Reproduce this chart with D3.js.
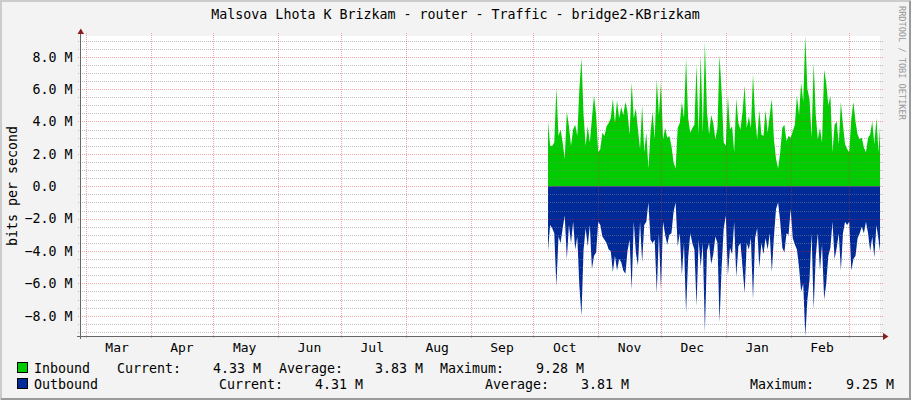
<!DOCTYPE html>
<html>
<head>
<meta charset="utf-8">
<script src="https://cdn.jsdelivr.net/npm/d3@7"></script>
<style>
	body { margin: 0; background: #f3f3f3; }
	text { font-family: "DejaVu Sans Mono", monospace; fill: #000; }
</style>
</head>
<body>
<svg id="chart" width="911" height="400"></svg>
<script>
var title = "Malsova Lhota K Brizkam - router - Traffic - bridge2-KBrizkam";
var yAxisTitle = "bits per second";
var monthLabels = ["Mar", "Apr", "May", "Jun", "Jul", "Aug", "Sep", "Oct", "Nov", "Dec", "Jan", "Feb"];
var yTickValues = [-8, -6, -4, -2, 0, 2, 4, 6, 8];   // in M
var firstDay = new Date(2014, 9, 8);                // first daily sample

// daily averages, Mbit/s
var inbound = [
	4.0, 2.5, 2.5, 2.7, 6.1, 3.1, 3.5, 2.7, 1.7, 4.6,
	3.7, 2.5, 3.5, 3.8, 3.1, 6.0, 7.9, 4.4, 2.5, 3.7,
	2.7, 4.2, 5.6, 4.4, 2.1, 2.3, 3.3, 3.1, 3.7, 3.9,
	4.2, 5.4, 3.9, 5.3, 4.2, 4.9, 4.4, 5.2, 4.6, 3.2,
	6.4, 4.2, 4.8, 3.5, 2.3, 5.0, 2.1, 3.3, 1.1, 3.3,
	4.6, 2.9, 6.6, 4.4,
	6.4, 2.9, 3.6, 3.0, 3.1, 2.5, 1.5, 1.1, 3.6, 3.9,
	5.2, 4.2, 7.9, 4.2, 3.3, 3.6, 3.8, 7.5, 3.2, 8.1,
	3.3, 8.9, 4.6, 3.2, 4.4, 3.9, 2.9, 3.6, 8.1, 5.8,
	2.7, 2.5, 5.6, 3.5, 3.7, 2.1, 5.4, 3.9, 3.5, 4.6,
	6.2, 3.6, 4.3, 3.6, 6.9, 4.3, 2.9, 4.7, 3.2, 3.1,
	4.7, 3.3, 4.4,
	5.4, 2.9, 1.7, 1.1, 2.1, 3.6, 3.8, 2.8, 3.1, 3.0,
	3.4, 3.8, 5.6, 4.4, 6.4, 5.2, 9.28, 6.0, 5.4, 3.0,
	7.6, 4.4, 2.9, 3.6, 2.7, 7.2, 6.4, 5.0, 5.6, 2.1,
	3.8, 4.0, 2.6, 5.2, 3.8, 2.6, 2.3, 2.1, 4.2, 5.2,
	4.0, 3.2, 2.9, 3.0, 2.4, 2.1, 3.0, 3.2, 4.0, 2.6,
	4.2, 2.1, 4.33
];
var outbound = [
	4.0, 2.4, 2.6, 2.9, 6.2, 3.1, 3.5, 2.6, 1.8, 4.5,
	2.4, 3.5, 2.2, 3.9, 3.1, 6.2, 8.0, 3.9, 2.6, 3.7,
	2.4, 5.1, 4.3, 4.1, 2.2, 2.4, 3.1, 3.3, 3.5, 3.9,
	4.0, 5.3, 4.3, 5.2, 4.5, 4.7, 5.2, 5.4, 4.0, 3.3,
	6.4, 2.2, 4.1, 4.9, 2.2, 4.7, 2.4, 2.2, 1.0, 3.3,
	3.5, 3.3, 6.6, 2.9,
	6.4, 2.2, 3.0, 3.6, 3.0, 2.9, 1.6, 1.0, 3.7, 2.9,
	5.5, 3.5, 7.8, 4.4, 2.9, 3.5, 3.9, 7.4, 3.3, 5.0,
	3.5, 9.0, 4.0, 3.5, 4.8, 4.2, 3.1, 3.5, 8.4, 5.0,
	2.6, 1.8, 5.5, 3.8, 4.2, 2.2, 5.6, 3.7, 3.5, 5.0,
	6.6, 3.5, 3.9, 3.2, 7.0, 3.2, 2.6, 5.0, 3.5, 4.2,
	3.2, 3.9, 2.9,
	5.3, 3.1, 1.4, 1.0, 2.2, 3.8, 4.1, 2.9, 3.0, 1.4,
	3.2, 3.6, 3.9, 5.0, 6.5, 6.0, 9.25, 7.0, 5.8, 2.9,
	7.6, 4.3, 2.9, 5.2, 3.6, 7.0, 6.0, 4.3, 3.8, 2.2,
	4.5, 3.8, 2.9, 5.2, 2.9, 2.2, 2.4, 2.2, 5.2, 4.5,
	4.3, 3.2, 2.9, 2.5, 2.9, 2.2, 2.9, 4.0, 3.1, 4.4,
	2.4, 3.3, 4.31
];

var legendNames = ["Inbound", "Outbound"];
var legendColors = ["#00cc00", "#002a97"];
var legendCurrent = ["4.33 M", "4.31 M"];
var legendAverage = ["3.83 M", "3.81 M"];
var legendMaximum = ["9.28 M", "9.25 M"];

var svg = d3.select("#chart");
var W = 911, H = 400;
var plot = {left: 81, right: 880, top: 36, bottom: 336};

svg.append("rect").attr("width", W).attr("height", H).attr("fill", "#f3f3f3");
svg.append("rect")
	.attr("x", plot.left).attr("y", plot.top)
	.attr("width", plot.right - plot.left).attr("height", plot.bottom - plot.top)
	.attr("fill", "#ffffff");

var x = d3.scaleTime()
	.domain([new Date(2014, 1, 26, 18), new Date(2015, 2, 15, 17)])
	.range([plot.left, plot.right]);

var y = d3.scaleLinear()
	.domain([-d3.max(outbound), d3.max(inbound)])
	.range([plot.bottom, plot.top]);

function dayOf(i){
	return d3.timeDay.offset(firstDay, i);
}

//===============================================
// data
//===============================================
svg.append("clipPath").attr("id", "clip")
	.append("rect")
	.attr("x", plot.left).attr("y", plot.top)
	.attr("width", plot.right - plot.left).attr("height", plot.bottom - plot.top);

var g = svg.append("g").attr("clip-path", "url(#clip)");

var areaIn = d3.area()
	.x(function(d, i){ return x(dayOf(i)); })
	.y0(y(0))
	.y1(function(d){ return y(d); });

var areaOut = d3.area()
	.x(function(d, i){ return x(dayOf(i)); })
	.y0(y(0))
	.y1(function(d){ return y(-d); });

g.append("path").datum(inbound).attr("d", areaIn).attr("fill", legendColors[0]);
g.append("path").datum(outbound).attr("d", areaOut).attr("fill", legendColors[1]);

//===============================================
// grid (drawn over the data, like rrdtool)
//===============================================
var grid = svg.append("g").attr("shape-rendering", "crispEdges");
var minorColor = "rgba(130,130,130,0.5)";
var majorColor = "rgba(225,40,40,0.4)";

var minor = d3.range(-18, 19).map(function(k){ return k / 2; })
	.filter(function(v){ return v % 2 != 0 && y(v) >= plot.top && y(v) <= plot.bottom; });

grid.selectAll("line.minor")
	.data(minor)
	.enter()
	.append("line")
	.attr("x1", 78).attr("x2", 883)
	.attr("y1", function(d){ return Math.round(y(d)) + 0.5; })
	.attr("y2", function(d){ return Math.round(y(d)) + 0.5; })
	.attr("stroke", minorColor)
	.attr("stroke-dasharray", "1,1");

grid.selectAll("line.major")
	.data(yTickValues)
	.enter()
	.append("line")
	.attr("x1", 78).attr("x2", 883)
	.attr("y1", function(d){ return Math.round(y(d)) + 0.5; })
	.attr("y2", function(d){ return Math.round(y(d)) + 0.5; })
	.attr("stroke", majorColor)
	.attr("stroke-dasharray", "1,1");

var monthStarts = d3.timeMonth.range(x.domain()[0], x.domain()[1]);
grid.selectAll("line.month")
	.data(monthStarts)
	.enter()
	.append("line")
	.attr("x1", function(d){ return Math.round(x(d)) + 0.5; })
	.attr("x2", function(d){ return Math.round(x(d)) + 0.5; })
	.attr("y1", 33).attr("y2", 339)
	.attr("stroke", majorColor)
	.attr("stroke-dasharray", "1,1");

//===============================================
// axes
//===============================================
var axisColor = "#666";
var arrowColor = "#8b1c1c";
svg.append("line")
	.attr("x1", 80.5).attr("x2", 80.5).attr("y1", 32).attr("y2", 339)
	.attr("stroke", axisColor).attr("shape-rendering", "crispEdges");
svg.append("line")
	.attr("x1", 77).attr("x2", 884).attr("y1", 336.5).attr("y2", 336.5)
	.attr("stroke", axisColor).attr("shape-rendering", "crispEdges");
svg.append("path").attr("d", "M77.5,34L84,34L80.8,28.5Z").attr("fill", arrowColor);
svg.append("path").attr("d", "M883,333L883,340L888.5,336.5Z").attr("fill", arrowColor);

svg.append("g")
	.selectAll("text")
	.data(yTickValues)
	.enter()
	.append("text")
	.attr("x", 72.5)
	.attr("y", function(d){ return y(d); })
	.attr("dy", "0.36em")
	.attr("text-anchor", "end")
	.style("white-space", "pre")
	.style("font-size", "13.3px")
	.text(function(d){ return d3.format(".1f")(d) + (d == 0 ? "  " : " M"); });

// month label sits half a month (15 days) after the month start
svg.append("g")
	.selectAll("text")
	.data(monthLabels)
	.enter()
	.append("text")
	.attr("x", function(d, i){ return x(d3.timeDay.offset(monthStarts[i], 15)); })
	.attr("y", 347)
	.attr("dy", "0.36em")
	.attr("text-anchor", "middle")
	.style("font-size", "13px")
	.text(function(d){ return d; });

svg.append("text")
	.attr("x", 455.5).attr("y", 14).attr("dy", "0.36em")
	.attr("text-anchor", "middle")
	.style("font-size", "13.3px")
	.text(title);

svg.append("text")
	.attr("transform", "translate(12,186) rotate(-90)")
	.attr("dy", "0.36em")
	.attr("text-anchor", "middle")
	.style("font-size", "13.3px")
	.text(yAxisTitle);

svg.append("text")
	.attr("transform", "translate(902,6) rotate(90)")
	.attr("dy", "0.36em")
	.style("font-size", "8.6px")
	.style("fill", "#999")
	.text("RRDTOOL / TOBI OETIKER");

//===============================================
// legend
//===============================================
var legendRows = [
	{y: 368, cols: [34, 117, 213, 279, 375, 440, 536]},
	{y: 384, cols: [34, 219, 315, 485, 581, 750, 846]}
];
legendNames.forEach(function(name, i){
	var row = legendRows[i];
	svg.append("rect")
		.attr("x", 17.5).attr("y", row.y - 5.5)
		.attr("width", 10).attr("height", 10)
		.attr("fill", legendColors[i])
		.attr("stroke", "#000")
		.attr("shape-rendering", "crispEdges");
	var parts = [name, "Current:", legendCurrent[i], "Average:", legendAverage[i], "Maximum:", legendMaximum[i]];
	svg.append("g")
		.selectAll("text")
		.data(parts)
		.enter()
		.append("text")
		.attr("x", function(d, j){ return row.cols[j]; })
		.attr("y", row.y)
		.attr("dy", "0.36em")
		.style("font-size", "13.3px")
		.text(function(d){ return d; });
});

// frame
svg.append("path").attr("d", "M1,400L1,1L911,1").attr("fill", "none")
	.attr("stroke", "#cccccc").attr("stroke-width", 2);
svg.append("path").attr("d", "M910,1L910,399L1,399").attr("fill", "none")
	.attr("stroke", "#9a9a9a").attr("stroke-width", 2);
</script>
</body>
</html>
